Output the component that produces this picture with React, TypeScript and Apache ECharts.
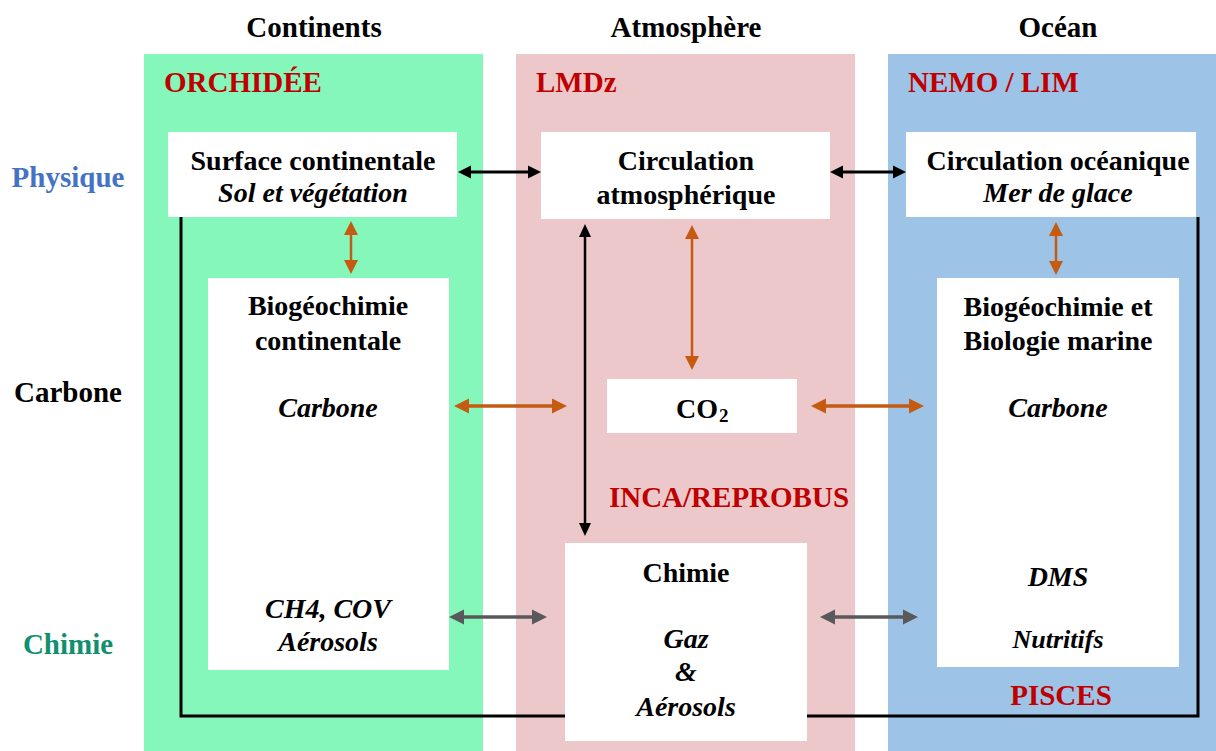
import React, { useEffect, useRef } from "react";
import * as echarts from "echarts";

// ---- content ----
const columnTitles = ["Continents", "Atmosphère", "Océan"];
const modelNames = ["ORCHIDÉE", "LMDz", "NEMO / LIM"];
const rowLabels = ["Physique", "Carbone", "Chimie"];
const physBoxes = [
  ["Surface continentale", "Sol et végétation"],
  ["Circulation", "atmosphérique"],
  ["Circulation océanique", "Mer de glace"],
];
const bioContTitle = ["Biogéochimie", "continentale"];
const bioContItems = ["Carbone", "CH4, COV", "Aérosols"];
const bioMarTitle = ["Biogéochimie et", "Biologie marine"];
const bioMarItems = ["Carbone", "DMS", "Nutritifs"];
const chemTitle = "Chimie";
const chemItems = ["Gaz", "&", "Aérosols"];
const co2Label = ["CO", "2"];
const extraModels = ["INCA/REPROBUS", "PISCES"];

// ---- styles ----
const SERIF = '"Liberation Serif", "Times New Roman", serif';
const RED = "#C00000";
const ORANGE = "#C55A11";
const GREY = "#595959";
const fontB = (s: number) => `bold ${s}px ${SERIF}`;
const fontBI = (s: number) => `italic bold ${s}px ${SERIF}`;
const H = 29; // headings
const T = 28; // box text

function txt(text: string, x: number, y: number, font: string, fill = "#000", align = "center") {
  return { type: "text", z: 10, style: { text, x, y, font, fill, align, verticalAlign: "middle" } };
}
function rect(x: number, y: number, w: number, h: number, fill: string, z = 1) {
  return { type: "rect", z, shape: { x, y, width: w, height: h }, style: { fill } };
}
function arrow(x1: number, y1: number, x2: number, y2: number, color: string, lw: number, hl: number, hw: number) {
  const dx = x2 - x1, dy = y2 - y1;
  const L = Math.hypot(dx, dy);
  const ux = dx / L, uy = dy / L;
  const px = -uy, py = ux;
  const head = (tx: number, ty: number, dir: number) => {
    const bx = tx - dir * ux * hl, by = ty - dir * uy * hl;
    return {
      type: "polygon", z: 6,
      shape: { points: [[tx, ty], [bx + px * hw / 2, by + py * hw / 2], [bx - px * hw / 2, by - py * hw / 2]] },
      style: { fill: color },
    };
  };
  return [
    {
      type: "line", z: 5,
      shape: { x1: x1 + ux * hl * 0.8, y1: y1 + uy * hl * 0.8, x2: x2 - ux * hl * 0.8, y2: y2 - uy * hl * 0.8 },
      style: { stroke: color, lineWidth: lw },
    },
    head(x2, y2, 1),
    head(x1, y1, -1),
  ];
}

export default function App() {
  const ref = useRef<HTMLDivElement>(null);
  useEffect(() => {
    const chart = echarts.init(ref.current!, null, { renderer: "svg" });
    const els: any[] = [];
    // column backgrounds
    els.push(rect(144, 54, 339, 697, "#86F7BA", 0));
    els.push(rect(516, 54, 339, 697, "#ECC8CA", 0));
    els.push(rect(888, 54, 328, 697, "#9DC3E6", 0));
    // column titles
    const colCx = [314, 686, 1058];
    columnTitles.forEach((t, i) => els.push(txt(t, colCx[i], 27, fontB(H))));
    const modelX = [164, 536, 908];
    modelNames.forEach((t, i) => els.push(txt(t, modelX[i], 82, fontB(H), RED, "left")));
    // row labels
    els.push(txt(rowLabels[0], 68, 177, fontB(H), "#4472C4"));
    els.push(txt(rowLabels[1], 68, 392, fontB(H), "#000"));
    els.push(txt(rowLabels[2], 68, 644, fontB(H), "#119070"));
    // black loop line
    els.push({
      type: "polyline", z: 2,
      shape: { points: [[181, 217], [181, 716], [1198, 716], [1198, 217]] },
      style: { stroke: "#000", lineWidth: 3, fill: null },
    });
    // physics boxes
    els.push(rect(168, 132, 289, 85, "#fff", 3));
    els.push(rect(541, 132, 289, 87, "#fff", 3));
    els.push(rect(906, 132, 290, 85, "#fff", 3));
    els.push(txt(physBoxes[0][0], 313, 160, fontB(T)));
    els.push(txt(physBoxes[0][1], 313, 192, fontBI(T)));
    els.push(txt(physBoxes[1][0], 686, 160, fontB(T)));
    els.push(txt(physBoxes[1][1], 686, 194, fontB(T)));
    els.push(txt(physBoxes[2][0], 1058, 160, fontB(T)));
    els.push(txt(physBoxes[2][1], 1058, 192, fontBI(T)));
    // biogeochem continental
    els.push(rect(208, 278, 241, 392, "#fff", 3));
    els.push(txt(bioContTitle[0], 328, 305, fontB(T)));
    els.push(txt(bioContTitle[1], 328, 340, fontB(T)));
    els.push(txt(bioContItems[0], 328, 407, fontBI(T)));
    els.push(txt(bioContItems[1], 328, 608, fontBI(T)));
    els.push(txt(bioContItems[2], 328, 641, fontBI(T)));
    // biogeochem marine
    els.push(rect(937, 278, 242, 389, "#fff", 3));
    els.push(txt(bioMarTitle[0], 1058, 306, fontB(T)));
    els.push(txt(bioMarTitle[1], 1058, 340, fontB(T)));
    els.push(txt(bioMarItems[0], 1058, 407, fontBI(T)));
    els.push(txt(bioMarItems[1], 1058, 576, fontBI(T)));
    els.push(txt(bioMarItems[2], 1058, 639, fontBI(26)));
    // CO2
    els.push(rect(607, 379, 190, 54, "#fff", 3));
    els.push(txt(co2Label[0], 718, 408, fontB(T), "#000", "right"));
    els.push(txt(co2Label[1], 719, 415, fontB(19), "#000", "left"));
    // chemistry
    els.push(rect(565, 543, 242, 198, "#fff", 3));
    els.push(txt(chemTitle, 686, 572, fontB(T)));
    els.push(txt(chemItems[0], 686, 638, fontBI(T)));
    els.push(txt(chemItems[1], 686, 671, fontBI(T)));
    els.push(txt(chemItems[2], 686, 706, fontBI(T)));
    // extra model labels
    els.push(txt(extraModels[0], 729, 497, fontB(H), RED));
    els.push(txt(extraModels[1], 1061, 695, fontB(H), RED));
    // arrows
    els.push(...arrow(458, 172, 541, 172, "#000", 3, 13, 13));
    els.push(...arrow(830, 172, 906, 172, "#000", 3, 13, 13));
    els.push(...arrow(585, 224, 585, 536, "#000", 2.5, 13, 12));
    els.push(...arrow(351, 221, 351, 274, ORANGE, 2.5, 14, 14));
    els.push(...arrow(692, 225, 692, 370, ORANGE, 2.5, 14, 14));
    els.push(...arrow(1056, 222, 1056, 275, ORANGE, 2.5, 14, 14));
    els.push(...arrow(454, 406, 567, 406, ORANGE, 3.5, 15, 15));
    els.push(...arrow(811, 406, 924, 406, ORANGE, 3.5, 15, 15));
    els.push(...arrow(449, 617, 547, 617, GREY, 3.5, 15, 15));
    els.push(...arrow(820, 617, 918, 617, GREY, 3.5, 15, 15));

    chart.setOption({ animation: false, graphic: { elements: els } });
    return () => chart.dispose();
  }, []);
  return (
    <div
      ref={ref}
      style={{ position: "fixed", left: 0, top: 0, width: 1216, height: 751, background: "#fff" }}
    />
  );
}
